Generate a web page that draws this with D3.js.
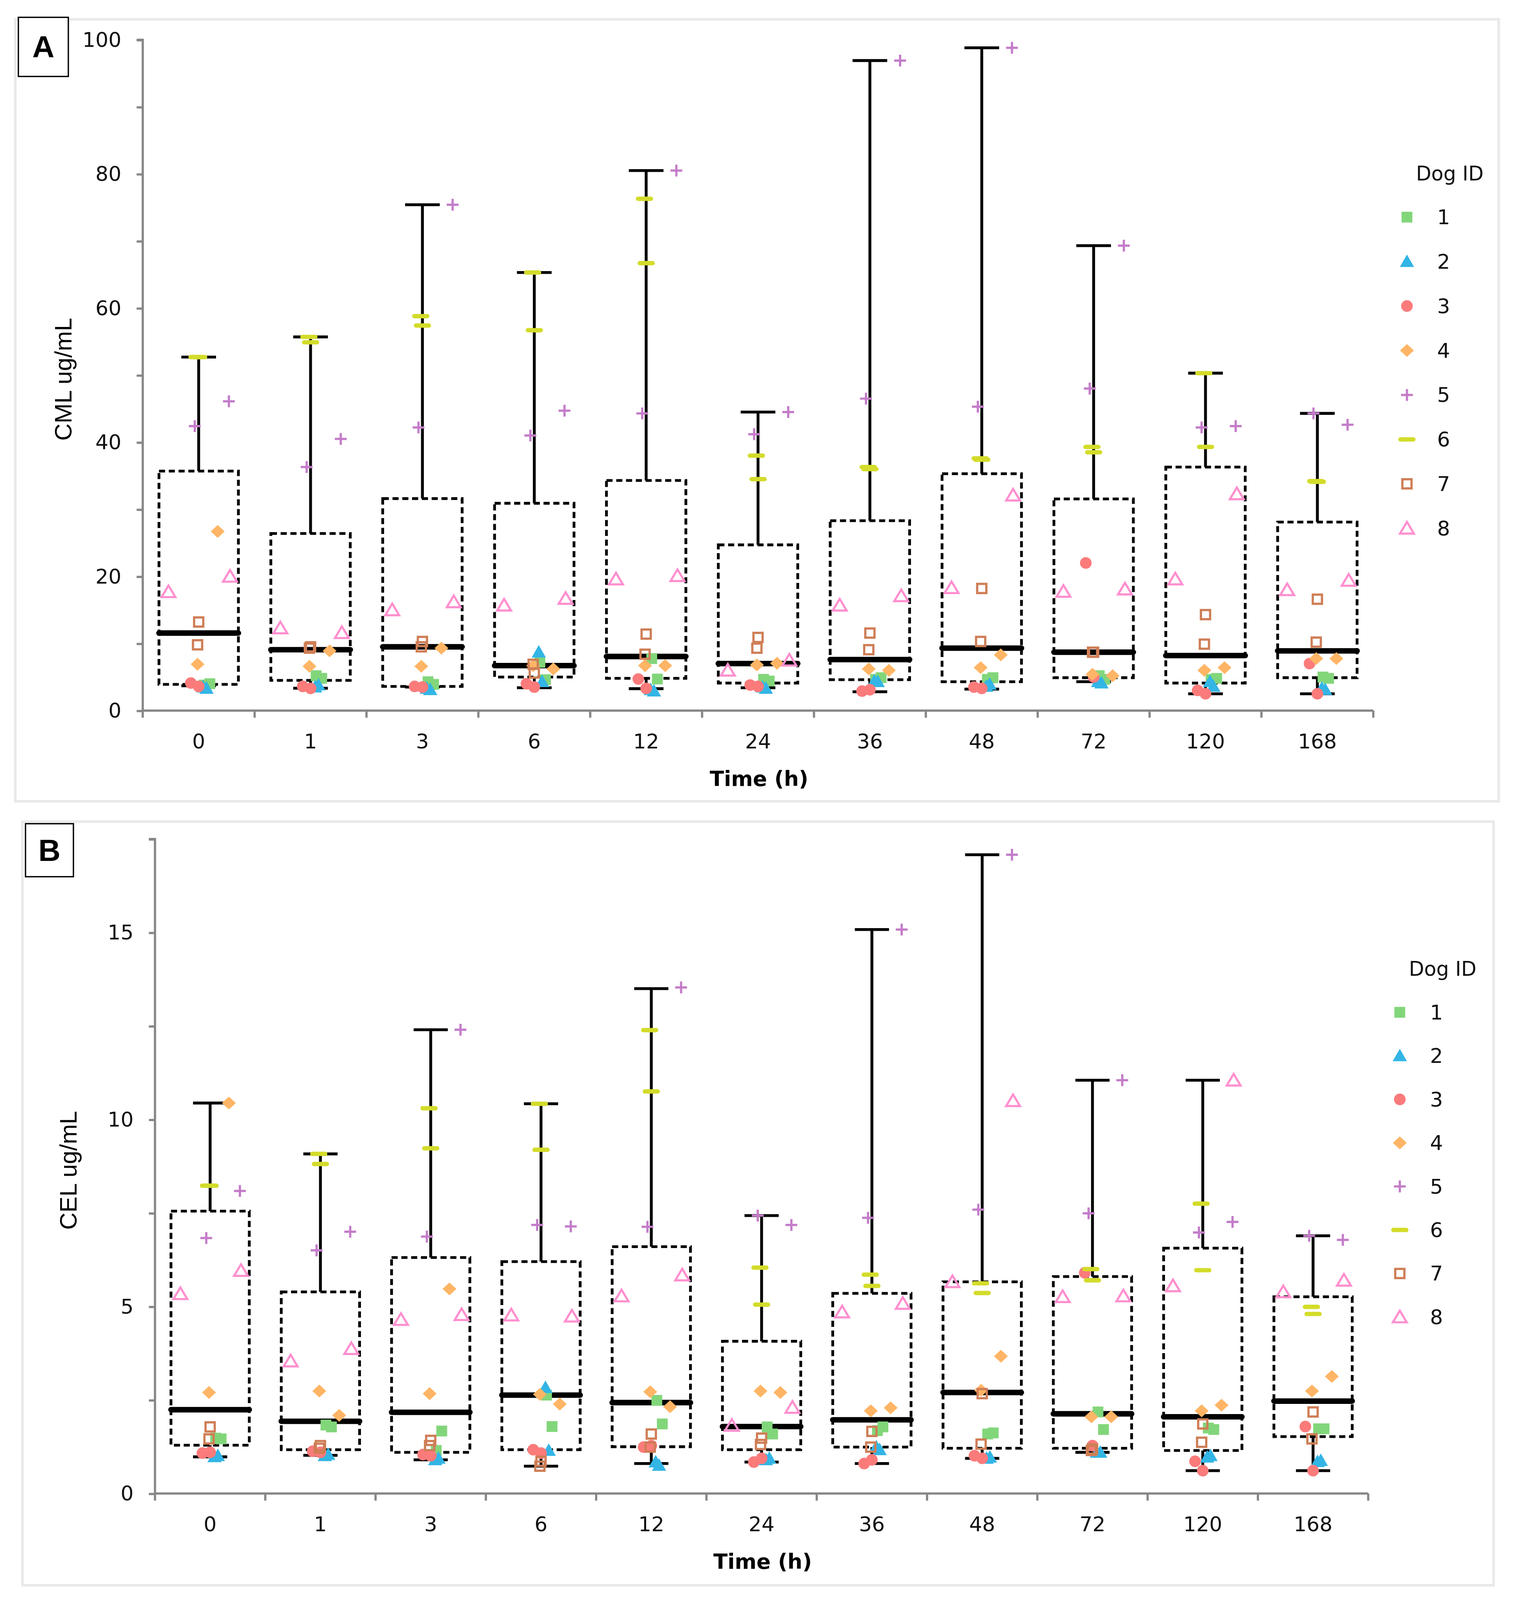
<!DOCTYPE html>
<html>
<head>
<meta charset="utf-8">
<script src="https://cdn.jsdelivr.net/npm/d3@7"></script>
<style>
  body { margin: 0; background: #fff; }
  svg { display: block; }
</style>
</head>
<body>
<div id="chart"></div>
<script>
// categories
const times = ['0', '1', '3', '6', '12', '24', '36', '48', '72', '120', '168'];
const dogIds = ['1', '2', '3', '4', '5', '6', '7', '8'];

// panel A, CML ug/mL: two readings per dog at each time point
const cmlDog1 = [[3.8,4.0],[5.2,4.8],[4.3,3.9],[7.2,4.6],[7.75,4.7],[4.65,4.4],[4.65,4.9],[4.65,4.9],[5.2,4.65],[4.65,4.8],[5.0,4.8]];
const cmlDog2 = [[3.5,3.3],[3.5,3.8],[3.3,3.1],[8.7,4.3],[3.1,2.9],[3.5,3.3],[4.4,4.3],[3.6,3.9],[4.3,4.1],[4.3,3.6],[3.3,3.1]];
const cmlDog3 = [[4.1,3.6],[3.6,3.3],[3.6,3.5],[4.0,3.5],[4.7,3.3],[3.8,3.6],[2.9,3.1],[3.5,3.3],[22.0,5.0],[3.0,2.5],[7.0,2.5]];
const cmlDog4 = [[6.9,26.7],[6.6,8.9],[6.6,9.3],[6.7,6.2],[6.7,6.7],[6.8,7.05],[6.2,6.0],[6.4,8.3],[5.4,5.2],[6.0,6.4],[7.75,7.75]];
const cmlDog5 = [[42.4,46.1],[36.3,40.5],[42.2,75.4],[41.0,44.7],[44.3,80.5],[41.2,44.5],[46.5,96.9],[45.3,98.8],[48.0,69.3],[42.2,42.4],[44.3,42.6]];
const cmlDog6 = [[52.7,52.7],[55.7,54.9],[58.8,57.4],[65.3,56.7],[76.3,66.7],[38.0,34.5],[36.3,36.0],[37.6,37.4],[39.3,38.5],[50.3,39.3],[34.2,34.1]];
const cmlDog7 = [[13.2,9.8],[9.5,9.3],[10.3,9.5],[5.6,6.9],[11.4,8.4],[10.9,9.3],[11.55,9.07],[18.2,10.3],[8.7,8.7],[14.3,9.9],[16.6,10.2]];
const cmlDog8 = [[17.7,20.0],[12.3,11.6],[15.0,16.2],[15.7,16.7],[19.6,20.1],[6.0,7.5],[15.7,17.1],[18.3,32.1],[17.75,18.1],[19.6,32.3],[18.0,19.4]];

// panel A box summary
const cmlMin = [3.7, 3.33, 3.5, 3.4, 3.26, 3.4, 2.8, 3.2, 4.3, 2.5, 2.5];
const cmlQ1 = [3.9, 4.5, 3.6, 5.0, 4.8, 4.1, 4.6, 4.3, 4.9, 4.1, 4.9];
const cmlMedian = [11.55, 9.07, 9.5, 6.7, 8.06, 7.0, 7.6, 9.3, 8.7, 8.2, 8.9];
const cmlQ3 = [35.7, 26.4, 31.6, 30.9, 34.3, 24.7, 28.3, 35.3, 31.55, 36.3, 28.1];
const cmlMax = [52.7, 55.7, 75.4, 65.3, 80.5, 44.5, 96.9, 98.8, 69.3, 50.3, 44.3];

// panel B, CEL ug/mL
const celDog1 = [[1.48,1.46],[1.83,1.78],[1.15,1.67],[2.63,1.79],[2.49,1.86],[1.78,1.59],[1.68,1.78],[1.59,1.62],[2.18,1.71],[1.75,1.71],[1.73,1.73]];
const celDog2 = [[0.98,1.01],[1.01,1.04],[0.9,0.94],[2.83,1.15],[0.84,0.75],[0.9,0.94],[1.24,1.17],[0.94,0.97],[1.1,1.1],[0.97,1.01],[0.85,0.88]];
const celDog3 = [[1.08,1.1],[1.13,1.1],[1.04,1.01],[1.17,1.08],[1.24,1.28],[0.84,0.94],[0.8,0.9],[1.01,0.94],[5.9,1.28],[0.86,0.61],[1.79,0.61]];
const celDog4 = [[2.7,10.44],[2.74,2.09],[2.67,5.47],[2.65,2.39],[2.72,2.32],[2.74,2.7],[2.21,2.29],[2.76,3.67],[2.05,2.05],[2.21,2.36],[2.74,3.13]];
const celDog5 = [[6.83,8.09],[6.5,7.0],[6.87,12.4],[7.18,7.14],[7.13,13.53],[7.43,7.18],[7.37,15.08],[7.59,17.08],[7.49,11.05],[6.98,7.26],[6.89,6.78]];
const celDog6 = [[8.23,8.23],[9.08,8.81],[10.3,9.23],[10.42,9.19],[12.39,10.75],[6.04,5.05],[5.85,5.55],[5.62,5.36],[6.0,5.7],[7.75,5.97],[4.99,4.8]];
const celDog7 = [[1.78,1.46],[1.28,1.21],[1.42,1.28],[0.86,0.73],[1.59,1.24],[1.48,1.31],[1.66,1.24],[2.67,1.32],[1.19,1.15],[1.86,1.37],[2.18,1.46]];
const celDog8 = [[5.34,5.96],[3.54,3.87],[4.65,4.78],[4.77,4.74],[5.28,5.84],[1.82,2.3],[4.85,5.08],[5.66,10.5],[5.26,5.28],[5.55,11.05],[5.39,5.7]];

const celMin = [0.98, 1.02, 0.9, 0.73, 0.8, 0.84, 0.8, 0.94, 1.1, 0.61, 0.61];
const celQ1 = [1.29, 1.17, 1.1, 1.17, 1.25, 1.17, 1.24, 1.21, 1.21, 1.15, 1.52];
const celMedian = [2.24, 1.93, 2.17, 2.63, 2.43, 1.79, 1.97, 2.7, 2.13, 2.05, 2.47];
const celQ3 = [7.55, 5.39, 6.31, 6.2, 6.6, 4.07, 5.35, 5.66, 5.8, 6.56, 5.26];
const celMax = [10.44, 9.08, 12.4, 10.42, 13.5, 7.43, 15.08, 17.08, 11.05, 11.05, 6.89];

// marker look per dog, and horizontal spread of the two readings (fraction of a band)
const dogColor = { '1': '#82d67a', '2': '#33b5e5', '3': '#fb7b7b', '4': '#ffb565', '5': '#c47cc9', '6': '#d3dc2a', '7': '#cf7e56', '8': '#ff8fcf' };
const dogShape = { '1': 'square', '2': 'triangle', '3': 'circle', '4': 'diamond', '5': 'plus', '6': 'dash', '7': 'opensquare', '8': 'opentriangle' };
const jitter = { '1': [0.05, 0.10], '2': [0.04, 0.07], '3': [-0.07, 0], '4': [-0.01, 0.17], '5': [-0.035, 0.27], '6': [-0.015, 0], '7': [0, -0.01], '8': [-0.27, 0.28] };

const W = 1484, H = 1578.3;
const svg = d3.select('#chart').append('svg')
    .attr('width', 3873)
    .attr('height', 4119)
    .attr('viewBox', '0 0 ' + W + ' ' + H);

svg.append('rect').attr('width', W).attr('height', H).attr('fill', '#fff');

const tickFont = 'DejaVu Sans, Verdana, sans-serif';
const axisGrey = '#878787';

const panels = [
  {
    tag: 'A', title: 'CML ug/mL',
    dogs: [cmlDog1, cmlDog2, cmlDog3, cmlDog4, cmlDog5, cmlDog6, cmlDog7, cmlDog8],
    min: cmlMin, q1: cmlQ1, median: cmlMedian, q3: cmlQ3, max: cmlMax,
    domain: [0, 100], step: 10, labelEvery: 20,
    frame: [15, 19, 1455, 767], tagBox: [18, 17, 49, 58],
    left: 140, right: 1347, top: 39, bottom: 697,
    yTitleX: 70, xTitleY: 771,
    legend: { x: 1380, y: 213, dy: 43.6, titleX: 1422, titleY: 177 }
  },
  {
    tag: 'B', title: 'CEL ug/mL',
    dogs: [celDog1, celDog2, celDog3, celDog4, celDog5, celDog6, celDog7, celDog8],
    min: celMin, q1: celQ1, median: celMedian, q3: celQ3, max: celMax,
    domain: [0, 17.5], step: 2.5, labelEvery: 5,
    frame: [22, 806, 1443, 749], tagBox: [25, 808, 47, 52],
    left: 152, right: 1342, top: 823, bottom: 1465,
    yTitleX: 75, xTitleY: 1539,
    legend: { x: 1373, y: 993, dy: 42.7, titleX: 1415, titleY: 957 }
  }
];

function marker(g, dog, x, y) {
  const c = dogColor[dog];
  switch (dogShape[dog]) {
    case 'square':
      g.append('rect').attr('x', x - 5.3).attr('y', y - 5.3)
          .attr('width', 10.6).attr('height', 10.6).attr('fill', c);
      break;
    case 'triangle':
      g.append('path').attr('d', `M${x},${y - 7}L${x + 7},${y + 5.3}L${x - 7},${y + 5.3}Z`)
          .attr('fill', c);
      break;
    case 'circle':
      g.append('circle').attr('cx', x).attr('cy', y).attr('r', 5.7).attr('fill', c);
      break;
    case 'diamond':
      g.append('path').attr('d', `M${x},${y - 6.3}L${x + 6.8},${y}L${x},${y + 6.3}L${x - 6.8},${y}Z`)
          .attr('fill', c);
      break;
    case 'plus':
      g.append('path').attr('d', `M${x - 5.8},${y}H${x + 5.8}M${x},${y - 5.8}V${y + 5.8}`)
          .attr('stroke', c).attr('stroke-width', 2.2).attr('fill', 'none');
      break;
    case 'dash':
      g.append('line').attr('x1', x - 6.3).attr('x2', x + 6.3).attr('y1', y).attr('y2', y)
          .attr('stroke', c).attr('stroke-width', 4.3).attr('stroke-linecap', 'round');
      break;
    case 'opensquare':
      g.append('rect').attr('x', x - 4.5).attr('y', y - 4.5)
          .attr('width', 9).attr('height', 9)
          .attr('fill', 'none').attr('stroke', c).attr('stroke-width', 2.2);
      break;
    case 'opentriangle':
      g.append('path').attr('d', `M${x},${y - 6.2}L${x + 6.8},${y + 5.2}L${x - 6.8},${y + 5.2}Z`)
          .attr('fill', 'none').attr('stroke', c).attr('stroke-width', 2.1)
          .attr('stroke-linejoin', 'miter');
      break;
  }
}

panels.forEach(p => drawPanel(p));

function drawPanel(p) {
  const g = svg.append('g');

  // frame
  g.append('rect')
      .attr('x', p.frame[0]).attr('y', p.frame[1])
      .attr('width', p.frame[2]).attr('height', p.frame[3])
      .attr('fill', 'none').attr('stroke', '#e9e9e9').attr('stroke-width', 2.5);

  const xScale = d3.scaleBand()
      .domain(times)
      .range([p.left, p.right]);
  const yScale = d3.scaleLinear()
      .domain(p.domain)
      .range([p.bottom, p.top]);
  const bw = xScale.bandwidth();
  const cx = t => xScale(t) + bw / 2;

  // y axis
  const yAxis = d3.axisLeft(yScale)
      .tickValues(d3.range(p.domain[0], p.domain[1] + 0.001, p.step))
      .tickSize(6)
      .tickPadding(15)
      .tickFormat(d => (Math.abs(d / p.labelEvery - Math.round(d / p.labelEvery)) < 1e-6) ? d : '');
  const ya = g.append('g')
      .attr('transform', 'translate(' + p.left + ',0)')
      .call(yAxis);
  ya.select('.domain').attr('stroke', axisGrey).attr('stroke-width', 2.2)
      .attr('d', 'M-6,' + p.top + 'H0V' + p.bottom);
  ya.selectAll('.tick line').attr('stroke', axisGrey).attr('stroke-width', 2.2);
  ya.selectAll('.tick text')
      .attr('font-family', tickFont).attr('font-size', 20).attr('fill', '#111');

  // x axis: line with ticks on band edges
  g.append('line')
      .attr('x1', p.left).attr('x2', p.right)
      .attr('y1', p.bottom).attr('y2', p.bottom)
      .attr('stroke', axisGrey).attr('stroke-width', 2.2);
  const edges = times.map(t => xScale(t)).concat([p.right]);
  g.selectAll('.xtick').data(edges).enter().append('line')
      .attr('x1', d => d).attr('x2', d => d)
      .attr('y1', p.bottom).attr('y2', p.bottom + 7)
      .attr('stroke', axisGrey).attr('stroke-width', 2.2);
  g.selectAll('.xlab').data(times).enter().append('text')
      .attr('x', d => cx(d))
      .attr('y', p.bottom + 37)
      .attr('text-anchor', 'middle')
      .attr('font-family', tickFont).attr('font-size', 20).attr('fill', '#111')
      .text(d => d);

  // axis titles
  g.append('text')
      .attr('x', (p.left + p.right) / 2 + 1)
      .attr('y', p.xTitleY)
      .attr('text-anchor', 'middle')
      .attr('font-family', 'DejaVu Sans, Verdana, sans-serif')
      .attr('font-weight', 'bold').attr('font-size', 20.5)
      .text('Time (h)');
  g.append('text')
      .attr('transform', 'translate(' + p.yTitleX + ',' + ((p.top + p.bottom) / 2 + 4) + ') rotate(-90)')
      .attr('text-anchor', 'middle')
      .attr('font-family', 'Liberation Sans, Arial, sans-serif')
      .attr('font-size', 23.5)
      .text(p.title);

  // boxes and whiskers
  const capHalf = bw * 0.155;
  const boxHalf = bw * 0.355;
  const boxes = g.append('g');
  times.forEach((t, i) => {
    const x = cx(t);
    const bg = boxes.append('g');
    // upper whisker
    bg.append('line')
        .attr('x1', x).attr('x2', x)
        .attr('y1', yScale(p.q3[i])).attr('y2', yScale(p.max[i]))
        .attr('stroke', '#000').attr('stroke-width', 2.8);
    bg.append('line')
        .attr('x1', x - capHalf).attr('x2', x + capHalf)
        .attr('y1', yScale(p.max[i])).attr('y2', yScale(p.max[i]))
        .attr('stroke', '#000').attr('stroke-width', 2.8);
    // lower whisker
    bg.append('line')
        .attr('x1', x).attr('x2', x)
        .attr('y1', yScale(p.q1[i])).attr('y2', yScale(p.min[i]))
        .attr('stroke', '#000').attr('stroke-width', 2.8);
    bg.append('line')
        .attr('x1', x - capHalf).attr('x2', x + capHalf)
        .attr('y1', yScale(p.min[i])).attr('y2', yScale(p.min[i]))
        .attr('stroke', '#000').attr('stroke-width', 2.8);
    // dashed box
    bg.append('rect')
        .attr('x', x - boxHalf).attr('y', yScale(p.q3[i]))
        .attr('width', boxHalf * 2)
        .attr('height', yScale(p.q1[i]) - yScale(p.q3[i]))
        .attr('fill', 'none')
        .attr('stroke', '#000').attr('stroke-width', 2.7)
        .attr('stroke-dasharray', '6,3.6');
    // median
    bg.append('line')
        .attr('x1', x - boxHalf).attr('x2', x + boxHalf)
        .attr('y1', yScale(p.median[i])).attr('y2', yScale(p.median[i]))
        .attr('stroke', '#000').attr('stroke-width', 5.4).attr('stroke-linecap', 'round');
  });

  // data points
  const pts = g.append('g');
  dogIds.forEach((dog, k) => {
    p.dogs[k].forEach((pair, i) => {
      pair.forEach((v, r) => {
        marker(pts, dog, cx(times[i]) + jitter[dog][r] * bw, yScale(v));
      });
    });
  });

  // legend
  const lg = g.append('g');
  lg.append('text')
      .attr('x', p.legend.titleX).attr('y', p.legend.titleY)
      .attr('text-anchor', 'middle')
      .attr('font-family', tickFont).attr('font-size', 19.5).attr('fill', '#111')
      .text('Dog ID');
  dogIds.forEach((dog, k) => {
    const y = p.legend.y + k * p.legend.dy;
    marker(lg, dog, p.legend.x, y);
    lg.append('text')
        .attr('x', p.legend.x + 36).attr('y', y + 7)
        .attr('text-anchor', 'middle')
        .attr('font-family', tickFont).attr('font-size', 20).attr('fill', '#111')
        .text(dog);
  });

  // panel tag drawn last so it sits over the frame corner
  g.append('rect')
      .attr('x', p.tagBox[0]).attr('y', p.tagBox[1])
      .attr('width', p.tagBox[2]).attr('height', p.tagBox[3])
      .attr('fill', '#fff').attr('stroke', '#000').attr('stroke-width', 1.3);
  g.append('text')
      .attr('x', p.tagBox[0] + p.tagBox[2] / 2)
      .attr('y', p.tagBox[1] + p.tagBox[3] / 2 + 10.5)
      .attr('text-anchor', 'middle')
      .attr('font-family', 'Liberation Sans, Arial, sans-serif')
      .attr('font-weight', 'bold').attr('font-size', 30)
      .text(p.tag);
}
</script>
</body>
</html>
